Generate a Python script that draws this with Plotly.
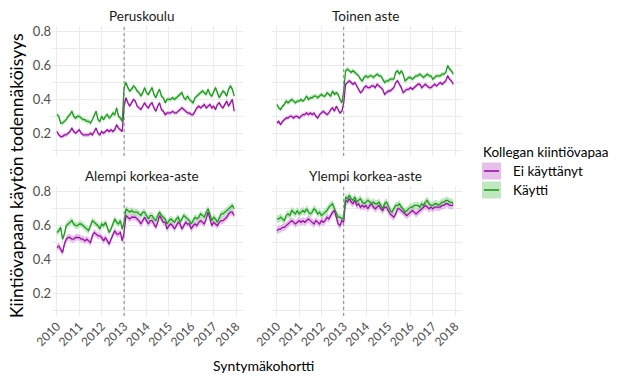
import plotly.graph_objects as go

W, H = 617, 376

panels = ["Peruskoulu", "Toinen aste", "Alempi korkea-aste", "Ylempi korkea-aste"]
series_names = ["Ei käyttänyt", "Käytti"]
legend_title = "Kollegan kiintiövapaa"
x_title = "Syntymäkohortti"
y_title = "Kiintiövapaan käytön todennäköisyys"
x_ticks = [2010, 2011, 2012, 2013, 2014, 2015, 2016, 2017, 2018]
y_ticks = [0.2, 0.4, 0.6, 0.8]
reform_year = 2013

# monthly cohorts 2010-01 .. 2017-12
months = [2010 + i / 12 for i in range(96)]

peru_ei = [0.21, 0.19, 0.18, 0.18, 0.19, 0.19, 0.20, 0.21, 0.23, 0.21, 0.20, 0.21,
           0.22, 0.20, 0.19, 0.19, 0.19, 0.19, 0.20, 0.19, 0.21, 0.23, 0.20, 0.19,
           0.21, 0.20, 0.21, 0.22, 0.21, 0.22, 0.21, 0.22, 0.25, 0.23, 0.22, 0.21,
           0.36, 0.41, 0.38, 0.36, 0.38, 0.40, 0.39, 0.36, 0.35, 0.34, 0.36, 0.38,
           0.36, 0.35, 0.37, 0.38, 0.35, 0.33, 0.36, 0.38, 0.34, 0.33, 0.31, 0.32,
           0.32, 0.32, 0.33, 0.32, 0.32, 0.33, 0.34, 0.35, 0.34, 0.33, 0.32, 0.32,
           0.31, 0.31, 0.33, 0.35, 0.36, 0.35, 0.36, 0.37, 0.35, 0.36, 0.37, 0.35,
           0.36, 0.34, 0.37, 0.38, 0.36, 0.35, 0.37, 0.39, 0.36, 0.38, 0.40, 0.33]
peru_k = [0.31, 0.30, 0.26, 0.26, 0.27, 0.28, 0.30, 0.31, 0.33, 0.30, 0.29, 0.30,
          0.30, 0.29, 0.28, 0.28, 0.27, 0.27, 0.26, 0.28, 0.31, 0.33, 0.28, 0.27,
          0.30, 0.28, 0.30, 0.31, 0.29, 0.30, 0.32, 0.31, 0.35, 0.30, 0.29, 0.27,
          0.47, 0.50, 0.47, 0.45, 0.46, 0.48, 0.47, 0.45, 0.44, 0.42, 0.44, 0.47,
          0.44, 0.43, 0.45, 0.47, 0.43, 0.41, 0.44, 0.46, 0.42, 0.41, 0.38, 0.40,
          0.40, 0.40, 0.41, 0.40, 0.41, 0.42, 0.43, 0.44, 0.41, 0.40, 0.42, 0.40,
          0.39, 0.38, 0.41, 0.42, 0.43, 0.44, 0.45, 0.44, 0.43, 0.46, 0.43, 0.42,
          0.45, 0.47, 0.44, 0.41, 0.43, 0.45, 0.44, 0.42, 0.46, 0.48, 0.46, 0.42]

toinen_ei = [0.26, 0.27, 0.25, 0.27, 0.28, 0.29, 0.29, 0.30, 0.30, 0.29, 0.30, 0.30,
             0.29, 0.30, 0.31, 0.31, 0.32, 0.31, 0.32, 0.31, 0.32, 0.30, 0.29, 0.31,
             0.32, 0.33, 0.32, 0.31, 0.32, 0.34, 0.35, 0.33, 0.36, 0.34, 0.32, 0.33,
             0.38, 0.49, 0.50, 0.51, 0.50, 0.49, 0.50, 0.48, 0.46, 0.44, 0.45, 0.47,
             0.48, 0.47, 0.47, 0.48, 0.48, 0.47, 0.49, 0.48, 0.47, 0.46, 0.43, 0.44,
             0.45, 0.45, 0.46, 0.47, 0.50, 0.51, 0.49, 0.47, 0.44, 0.45, 0.46, 0.46,
             0.47, 0.46, 0.47, 0.48, 0.49, 0.49, 0.47, 0.48, 0.49, 0.48, 0.47, 0.47,
             0.48, 0.49, 0.48, 0.49, 0.50, 0.49, 0.50, 0.51, 0.54, 0.52, 0.51, 0.49]
toinen_k = [0.37, 0.35, 0.34, 0.36, 0.37, 0.39, 0.38, 0.39, 0.40, 0.39, 0.38, 0.39,
            0.39, 0.40, 0.39, 0.40, 0.42, 0.40, 0.41, 0.41, 0.42, 0.42, 0.41, 0.42,
            0.43, 0.42, 0.42, 0.44, 0.43, 0.42, 0.45, 0.43, 0.44, 0.43, 0.40, 0.38,
            0.45, 0.57, 0.58, 0.57, 0.56, 0.57, 0.56, 0.55, 0.54, 0.52, 0.51, 0.53,
            0.54, 0.53, 0.54, 0.54, 0.53, 0.54, 0.55, 0.54, 0.54, 0.52, 0.50, 0.51,
            0.51, 0.52, 0.52, 0.52, 0.56, 0.57, 0.55, 0.57, 0.55, 0.51, 0.52, 0.53,
            0.53, 0.52, 0.53, 0.54, 0.54, 0.55, 0.54, 0.53, 0.54, 0.55, 0.54, 0.54,
            0.52, 0.53, 0.54, 0.54, 0.54, 0.55, 0.55, 0.56, 0.60, 0.58, 0.57, 0.55]

alempi_ei = [0.47, 0.48, 0.46, 0.44, 0.49, 0.52, 0.53, 0.53, 0.52, 0.52, 0.53, 0.53,
             0.53, 0.52, 0.52, 0.51, 0.52, 0.51, 0.50, 0.54, 0.56, 0.55, 0.54, 0.54,
             0.53, 0.51, 0.53, 0.51, 0.49, 0.52, 0.55, 0.57, 0.55, 0.55, 0.56, 0.51,
             0.56, 0.66, 0.65, 0.64, 0.65, 0.65, 0.65, 0.64, 0.63, 0.61, 0.63, 0.65,
             0.63, 0.61, 0.63, 0.63, 0.61, 0.59, 0.62, 0.66, 0.64, 0.62, 0.62, 0.58,
             0.60, 0.61, 0.60, 0.58, 0.60, 0.62, 0.61, 0.58, 0.60, 0.62, 0.61, 0.61,
             0.58, 0.60, 0.61, 0.60, 0.62, 0.63, 0.62, 0.61, 0.64, 0.68, 0.64, 0.60,
             0.62, 0.61, 0.60, 0.62, 0.63, 0.63, 0.64, 0.65, 0.67, 0.68, 0.68, 0.66]
alempi_k = [0.56, 0.57, 0.59, 0.52, 0.55, 0.60, 0.61, 0.62, 0.63, 0.61, 0.60, 0.60,
            0.61, 0.61, 0.60, 0.59, 0.58, 0.57, 0.60, 0.63, 0.62, 0.61, 0.60, 0.58,
            0.61, 0.60, 0.62, 0.59, 0.56, 0.58, 0.61, 0.64, 0.62, 0.61, 0.63, 0.58,
            0.62, 0.70, 0.69, 0.68, 0.69, 0.68, 0.68, 0.68, 0.67, 0.66, 0.68, 0.68,
            0.66, 0.64, 0.66, 0.66, 0.64, 0.63, 0.66, 0.68, 0.66, 0.65, 0.64, 0.61,
            0.63, 0.64, 0.63, 0.62, 0.64, 0.65, 0.62, 0.64, 0.66, 0.65, 0.64, 0.63,
            0.61, 0.63, 0.65, 0.64, 0.65, 0.67, 0.66, 0.65, 0.68, 0.70, 0.67, 0.63,
            0.65, 0.64, 0.62, 0.65, 0.67, 0.67, 0.68, 0.69, 0.70, 0.71, 0.72, 0.70]

ylempi_ei = [0.57, 0.58, 0.58, 0.59, 0.59, 0.60, 0.61, 0.62, 0.63, 0.62, 0.61, 0.62,
             0.63, 0.62, 0.63, 0.62, 0.63, 0.64, 0.63, 0.62, 0.61, 0.63, 0.62, 0.61,
             0.63, 0.62, 0.63, 0.65, 0.64, 0.66, 0.68, 0.69, 0.65, 0.61, 0.60, 0.63,
             0.62, 0.75, 0.74, 0.76, 0.74, 0.73, 0.75, 0.72, 0.73, 0.71, 0.72, 0.71,
             0.72, 0.70, 0.72, 0.73, 0.71, 0.70, 0.71, 0.72, 0.70, 0.69, 0.71, 0.71,
             0.69, 0.67, 0.66, 0.65, 0.67, 0.70, 0.70, 0.69, 0.68, 0.67, 0.66, 0.67,
             0.68, 0.69, 0.68, 0.67, 0.68, 0.69, 0.70, 0.71, 0.72, 0.71, 0.70, 0.71,
             0.70, 0.71, 0.71, 0.71, 0.71, 0.72, 0.72, 0.73, 0.73, 0.72, 0.72, 0.72]
ylempi_k = [0.64, 0.64, 0.65, 0.64, 0.63, 0.66, 0.67, 0.66, 0.69, 0.68, 0.67, 0.69,
            0.67, 0.68, 0.69, 0.68, 0.70, 0.68, 0.67, 0.68, 0.70, 0.69, 0.67, 0.68,
            0.66, 0.67, 0.68, 0.69, 0.71, 0.72, 0.73, 0.70, 0.67, 0.65, 0.65, 0.64,
            0.65, 0.77, 0.76, 0.78, 0.76, 0.75, 0.77, 0.74, 0.75, 0.76, 0.74, 0.73,
            0.74, 0.75, 0.74, 0.73, 0.74, 0.73, 0.73, 0.74, 0.72, 0.70, 0.73, 0.74,
            0.72, 0.69, 0.68, 0.70, 0.72, 0.72, 0.73, 0.71, 0.70, 0.68, 0.69, 0.70,
            0.71, 0.71, 0.72, 0.72, 0.72, 0.71, 0.73, 0.72, 0.74, 0.75, 0.73, 0.72,
            0.72, 0.73, 0.73, 0.72, 0.73, 0.74, 0.74, 0.75, 0.75, 0.74, 0.74, 0.73]

# approximate confidence half-widths per panel (Ei käyttänyt, Käytti)
ci_half = [(0.012, 0.014), (0.012, 0.013), (0.02, 0.02), (0.022, 0.022)]

panel_data = [(peru_ei, peru_k), (toinen_ei, toinen_k),
              (alempi_ei, alempi_k), (ylempi_ei, ylempi_k)]

line_cols = ["#9c0fa6", "#1c9c1c"]
fill_cols = ["rgba(214,150,220,0.6)", "rgba(150,215,150,0.6)"]

FONT = "Lato"

def px_x(p):
    return p / W

def px_y(p):
    return 1 - p / H

# panel pixel boxes (left, right, top, bottom)
boxes = [(52, 243, 26, 156), (272, 462, 26, 156),
         (52, 243, 186, 316), (272, 462, 186, 316)]

fig = go.Figure()
layout = dict(width=W, height=H, margin=dict(l=0, r=0, t=0, b=0, autoexpand=False),
              paper_bgcolor="white", plot_bgcolor="white", showlegend=False,
              font=dict(family=FONT, color="#000000"))
shapes = []
annotations = []

for k, (name, (ei, kay)) in enumerate(zip(panels, panel_data)):
    xa = "xaxis" if k == 0 else f"xaxis{k+1}"
    ya = "yaxis" if k == 0 else f"yaxis{k+1}"
    xr = "x" if k == 0 else f"x{k+1}"
    yr = "y" if k == 0 else f"y{k+1}"
    l, r, t, b = boxes[k]
    for s, vals in enumerate([ei, kay]):
        hw = ci_half[k][s]
        upper = [v + hw for v in vals]
        lower = [v - hw for v in vals]
        fig.add_trace(go.Scatter(x=months + months[::-1], y=upper + lower[::-1],
                                 fill="toself", fillcolor=fill_cols[s],
                                 line=dict(width=0), mode="lines",
                                 hoverinfo="skip", xaxis=xr, yaxis=yr))
    for s, vals in enumerate([ei, kay]):
        fig.add_trace(go.Scatter(x=months, y=vals, mode="lines", name=series_names[s],
                                 line=dict(color=line_cols[s], width=1.3),
                                 xaxis=xr, yaxis=yr))
    bottom_row = k >= 2
    left_col = k % 2 == 0
    layout[xa] = dict(domain=[px_x(l), px_x(r)], range=[2009.78, 2018.31],
                      anchor=yr, tickvals=x_ticks,
                      ticktext=[str(v) for v in x_ticks],
                      showticklabels=bottom_row, tickangle=-45, automargin=False,
                      tickfont=dict(size=12, color="#4d4d4d", family=FONT),
                      showgrid=True, gridcolor="#ebebeb", gridwidth=1,
                      zeroline=False, showline=False, ticks="")
    layout[ya] = dict(domain=[px_y(b), px_y(t)], range=[0.065, 0.835],
                      anchor=xr, tickvals=[0.1, 0.2, 0.3, 0.4, 0.5, 0.6, 0.7, 0.8],
                      ticktext=["", "0.2", "", "0.4", "", "0.6", "", "0.8"],
                      showticklabels=left_col, automargin=False,
                      tickfont=dict(size=13, color="#4d4d4d", family=FONT),
                      showgrid=True, gridcolor="#ebebeb", gridwidth=1,
                      zeroline=False, showline=False, ticks="")
    shapes.append(dict(type="line", xref=xr, yref=f"{yr} domain",
                       x0=reform_year, x1=reform_year, y0=0, y1=1,
                       line=dict(color="#777777", width=0.9, dash="dot")))
    annotations.append(dict(text=name, xref="paper", yref="paper",
                            x=px_x(142 if left_col else 366), y=px_y(t - 10),
                            xanchor="center", yanchor="middle", showarrow=False,
                            font=dict(size=13.5, color="#1a1a1a", family=FONT)))

# axis titles
annotations.append(dict(text=x_title, xref="paper", yref="paper", x=px_x(263), y=px_y(365),
                        xanchor="center", yanchor="middle",
                        showarrow=False, font=dict(size=14, color="#000000", family=FONT)))
annotations.append(dict(text=y_title, xref="paper", yref="paper", x=px_x(16), y=px_y(176),
                        xanchor="center", yanchor="middle",
                        textangle=-90, showarrow=False,
                        font=dict(size=17.5, color="#000000", family=FONT)))

# manual legend
annotations.append(dict(text=legend_title, xref="paper", yref="paper", x=px_x(481), y=px_y(152),
                        xanchor="left", yanchor="middle", showarrow=False,
                        font=dict(size=13.5, color="#000000", family=FONT)))
for s, yc in enumerate([171, 190]):
    shapes.append(dict(type="rect", xref="paper", yref="paper",
                       x0=px_x(482), x1=px_x(501), y0=px_y(yc + 8.5), y1=px_y(yc - 8.5),
                       fillcolor=fill_cols[s], line=dict(width=0)))
    shapes.append(dict(type="line", xref="paper", yref="paper",
                       x0=px_x(484), x1=px_x(499), y0=px_y(yc), y1=px_y(yc),
                       line=dict(color=line_cols[s], width=1.6)))
    annotations.append(dict(text=series_names[s], xref="paper", yref="paper",
                            x=px_x(511), y=px_y(yc), xanchor="left", yanchor="middle",
                            showarrow=False,
                            font=dict(size=13.5, color="#000000", family=FONT)))

layout["shapes"] = shapes
layout["annotations"] = annotations
fig.update_layout(**layout)
fig.write_html("out.html", config={"displayModeBar": False},
               post_script="document.body.style.margin='0';")
